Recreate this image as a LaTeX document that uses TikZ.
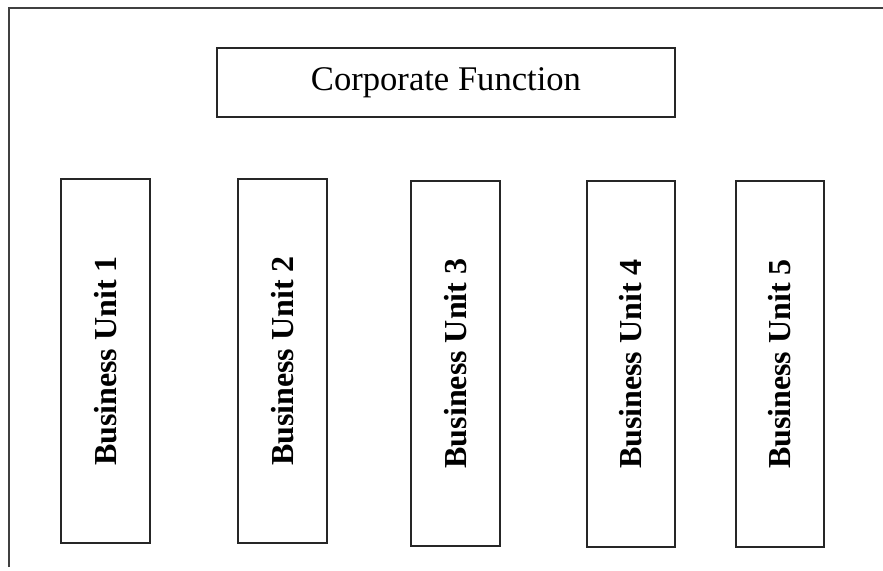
\documentclass[tikz,border=0pt]{standalone}
\usepackage{fontspec}
\setmainfont{Liberation Serif}
\begin{document}
\begin{tikzpicture}[x=1pt,y=-1pt,
  box/.style={draw=black!85, line width=1.1pt, inner sep=0pt, fill=white},
  frameline/.style={draw=black!75, line width=1.4pt},
  unit/.style={box, minimum width=89pt, minimum height=364pt, font=\fontsize{32}{36}\selectfont\bfseries}]
\useasboundingbox (0,0) rectangle (883,570);
\coordinate (fa) at (9,567);
\coordinate (fb) at (9,8);
\coordinate (fc) at (883,8);
\draw[frameline] (fa) -- (fb) -- (fc);
\node[box, minimum width=458pt, minimum height=69pt, font=\fontsize{34.6}{40}\selectfont] (corp) at (446,82.5) {Corporate Function};
\node[unit] (bu1) at (105.5,361) {\rotatebox{90}{Business Unit 1}};
\node[unit] (bu2) at (282.5,361) {\rotatebox{90}{Business Unit 2}};
\node[unit, minimum width=89pt, minimum height=365pt] (bu3) at (455.5,363.5) {\rotatebox{90}{Business Unit 3}};
\node[unit, minimum width=88pt, minimum height=366pt] (bu4) at (631,364) {\rotatebox{90}{Business Unit 4}};
\node[unit, minimum width=88pt, minimum height=366pt] (bu5) at (780,364) {\rotatebox{90}{Business Unit 5}};
\end{tikzpicture}
\end{document}
